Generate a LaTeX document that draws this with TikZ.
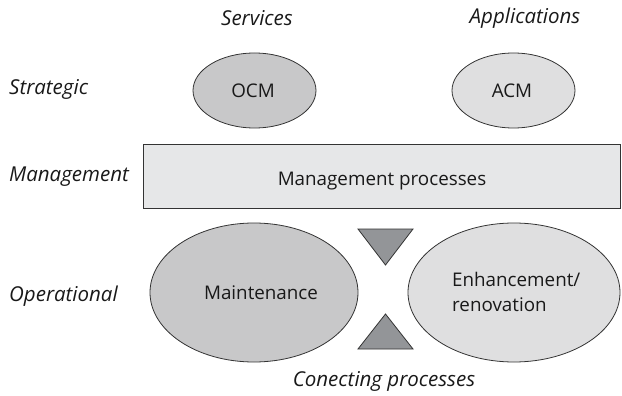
\documentclass[tikz,border=0pt]{standalone}
\usepackage{fontspec}
\setmainfont{Open Sans}
\usetikzlibrary{shapes.geometric}
\definecolor{darkfill}{HTML}{C8C8C9}
\definecolor{lightfill}{HTML}{DFDFE0}
\definecolor{boxfill}{HTML}{E6E7E8}
\definecolor{trifill}{HTML}{939598}
\definecolor{edge}{HTML}{333333}
\begin{document}
\begin{tikzpicture}[x=1pt,y=-1pt,
  lbl/.style={font=\fontsize{20.5}{24}\selectfont\itshape, text=black!90, inner sep=0pt},
  inner/.style={font=\fontsize{18.8}{25}\selectfont, text=black!90, align=center, inner sep=0pt},
  shp/.style={draw=edge, line width=0.8pt},
  tri/.style={shp, fill=trifill}]
\useasboundingbox (0,0) rectangle (622,396);
% header labels
\node[lbl] (serv) at (257,18) {Services};
\node[lbl] (appl) at (525,18) {Applications};
\node[lbl, anchor=west] (strat) at (9,89) {Strategic};
\node[lbl, anchor=west] (mgmt) at (9,177) {Management};
\node[lbl, anchor=west] (oper) at (9,296) {Operational};
% strategic ellipses
\draw[shp, fill=darkfill] (254.5,90.5) ellipse [x radius=61.5, y radius=37.5];
\node[inner] (ocm) at (253,90.5) {OCM};
\draw[shp, fill=lightfill] (513.5,90.5) ellipse [x radius=61.5, y radius=37.5];
\node[inner] (acm) at (512,90.5) {ACM};
% management box
\draw[shp, fill=boxfill] (143,144) rectangle (620,208);
\node[inner] (mp) at (382,181) {Management processes};
% operational ellipses
\draw[shp, fill=darkfill] (254,292.5) ellipse [x radius=104, y radius=69.5];
\node[inner] (maint) at (261,292.5) {Maintenance};
\draw[shp, fill=lightfill] (514,292.5) ellipse [x radius=106, y radius=69.5];
\node[inner, align=left, anchor=west] (enh) at (452,292) {Enhancement/\\renovation};
% triangles
\draw[tri] (358,229) -- (413,229) -- (385.5,265) -- cycle;
\draw[tri] (358,349) -- (413,349) -- (385.5,314) -- cycle;
\node[lbl] (conn) at (384,381) {Conecting processes};
\end{tikzpicture}
\end{document}
